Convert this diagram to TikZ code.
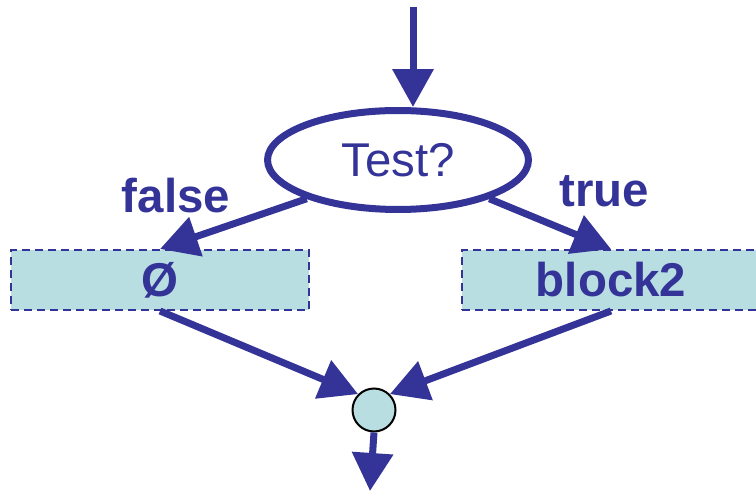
\documentclass[tikz,border=0pt]{standalone}
\usepackage{fontspec}
\setmainfont{Liberation Sans}
\usetikzlibrary{shapes.geometric, arrows.meta}
\definecolor{flowblue}{RGB}{52,52,152}
\definecolor{blockfill}{RGB}{184,222,226}
\tikzstyle{decision} = [ellipse, minimum width=5.22cm, minimum height=1.98cm, inner sep=0pt,
draw=flowblue, line width=0.14cm, text=flowblue, font=\fontsize{27}{32}\selectfont]
\tikzstyle{block} = [rectangle, minimum width=5.96cm, minimum height=1.2cm, inner sep=0pt,
draw=flowblue, fill=blockfill, line width=0.04cm, dash pattern=on 0.16cm off 0.1cm,
text=flowblue, font=\bfseries\fontsize{27}{32}\selectfont]
\tikzstyle{merge} = [circle, minimum size=0.86cm, inner sep=0pt, draw=black, line width=0.04cm, fill=blockfill]
\tikzstyle{branch} = [anchor=base, text=flowblue, font=\bfseries\fontsize{27}{32}\selectfont]
\tikzstyle{arrow} = [line width=0.14cm, draw=flowblue, -{Triangle[length=0.76cm, width=0.8cm]}]

\begin{document}
\begin{tikzpicture}[x=0.02cm, y=-0.02cm]
  \useasboundingbox (0,0) rectangle (756,492);

  \node (test) [decision] at (398,160) {Test?};
  \node (nullblk) [block] at (160,280) {Ø};
  \node (blk2) [block] at (611,280) {block2};
  \node (join) [merge] at (374,410) {};

  \node (falselbl) [branch] at (176,213) {false};
  \node (truelbl) [branch] at (604,207) {true};

  \coordinate (entry) at (413,7);
  \coordinate (exit) at (370,491);

  \draw [arrow] (entry) -- (entry |- test.north);
  \draw [arrow] (test.203) -- (nullblk.north);
  \draw [arrow] (test.337) -- (blk2.north);
  \draw [arrow] (nullblk.south) -- (join.135);
  \draw [arrow] (blk2.south) -- (join.45);
  \draw [arrow] (join.south) -- (exit);
\end{tikzpicture}
\end{document}
